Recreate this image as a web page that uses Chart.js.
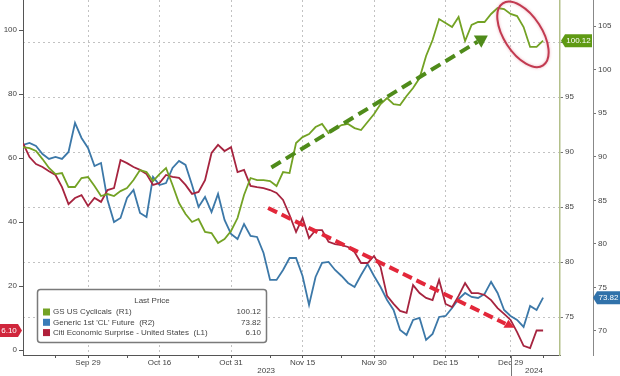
<!DOCTYPE html>
<html>
<head>
<meta charset="utf-8">
<script src="https://cdn.jsdelivr.net/npm/chart.js@4.4.1/dist/chart.umd.min.js"></script>
<style>
html, body { margin: 0; padding: 0; background: #fff; }
</style>
</head>
<body>
<canvas id="chart" width="620" height="376"></canvas>
<script>
const FONT = '"Liberation Sans", Arial, sans-serif';

// business-day index: 0 = Sep 15 2023 ... 80 = Jan 5 2024
const dateTicks = [10, 21, 32, 43, 54, 65, 75];
const dateLabels = ['Sep 29', 'Oct 16', 'Oct 31', 'Nov 15', 'Nov 30', 'Dec 15', 'Dec 29'];
const minorTicks = [5, 16, 27, 38, 49, 60, 70, 80];
const yearLabels = ['2023', '2024'];
const yearPos = [37.4, 78.6];
const yearBreak = 75.1;

const leftTicks = [0, 20, 40, 60, 80, 100];
const r1Ticks = [75, 80, 85, 90, 95, 100];
const r2Ticks = [70, 75, 80, 85, 90, 95, 100, 105];

// GS US Cyclicals (R1)
const gsCyclicals = [
  90.45, 90.36, 90.09, 89.36, 88.55, 88.00, 88.09, 86.82, 86.82, 87.64,
  87.73, 86.91, 86.00, 86.18, 86.00, 86.45, 86.73, 87.45, 88.36, 88.18,
  87.36, 88.00, 88.55, 87.00, 85.36, 84.36, 83.64, 83.91, 82.73, 82.64,
  81.73, 82.09, 82.82, 84.00, 86.09, 87.64, 87.45, 87.45, 87.36, 86.91,
  88.18, 88.09, 90.82, 91.36, 91.64, 92.27, 92.55, 91.73, 92.09, 92.45,
  92.55, 92.18, 92.00, 92.73, 93.45, 94.36, 94.91, 94.36, 94.27, 95.09,
  95.82, 96.73, 98.73, 100.18, 102.09, 101.73, 101.36, 102.27, 100.09, 101.55,
  101.82, 101.82, 102.55, 103.09, 103.00, 102.55, 102.36, 101.36, 99.55, 99.55,
  100.12
];
// Generic 1st 'CL' Future (R2)
const clFuture = [
  91.35, 91.58, 91.24, 90.32, 89.75, 89.98, 89.75, 90.55, 93.88, 92.16,
  91.01, 88.94, 89.29, 85.04, 82.51, 82.97, 85.27, 86.19, 83.55, 83.09,
  87.68, 86.76, 86.99, 88.71, 89.52, 89.06, 86.76, 84.24, 85.38, 83.66,
  85.73, 82.74, 81.14, 80.56, 82.28, 80.91, 80.79, 78.96, 75.86, 75.86,
  77.00, 78.38, 78.38, 76.31, 72.99, 76.20, 77.81, 77.92, 77.00, 76.31,
  75.51, 75.05, 76.43, 77.69, 76.31, 75.05, 73.56, 72.41, 70.11, 69.54,
  71.26, 71.49, 68.97, 69.66, 71.61, 71.72, 72.64, 73.67, 74.36, 73.90,
  73.79, 74.25, 75.63, 74.36, 72.41, 71.72, 71.26, 70.46, 72.87, 72.41,
  73.82
];
// Citi Economic Surprise - United States (L1)
const citiSurprise = [
  64.7, 60.3, 58.1, 57.2, 55.9, 54.7, 50.9, 45.6, 47.5, 48.4,
  45.0, 47.5, 46.3, 50.0, 50.6, 59.4, 58.4, 57.2, 56.3, 55.0,
  51.6, 52.2, 54.7, 54.1, 53.8, 51.6, 48.8, 49.4, 53.1, 61.6,
  64.1, 62.2, 63.4, 55.6, 56.3, 51.3, 50.9, 50.6, 50.0, 49.1,
  46.9, 42.2, 36.9, 41.3, 35.0, 37.5, 37.5, 33.8, 33.1, 32.8,
  32.2, 30.6, 27.2, 27.2, 29.4, 25.9, 16.9, 14.4, 12.2, 11.6,
  20.3, 17.8, 16.3, 15.6, 21.9, 14.4, 13.4, 16.9, 20.9, 17.8,
  17.8, 17.2, 15.6, 13.1, 11.3, 9.4, 5.6, 1.3, 0.6, 6.1,
  6.1
];

const seriesNames = ['GS US Cyclicals  (R1)', "Generic 1st 'CL' Future  (R2)", 'Citi Economic Surprise - United States  (L1)'];
const lastValues = ['100.12', '73.82', '6.10'];
const colors = { gs: '#73a224', cl: '#3c78a8', citi: '#a6243f' };

// annotation anchors in data units [index, value]
const greenArrow = [[38.2, 88.6], [71.5, 100.6]];   // on R1
const redArrow = [[37.7, 44.4], [74.2, 8.2]];       // on L1
const ringCenter = [76.9, 100.7];                    // on R1

const toPts = arr => arr.map((v, i) => ({ x: i, y: v }));

function dashedLine(ctx, x0, y0, x1, y1, color, dash) {
  ctx.save();
  ctx.strokeStyle = color;
  ctx.lineWidth = 4;
  ctx.setLineDash(dash);
  ctx.beginPath();
  ctx.moveTo(x0, y0);
  ctx.lineTo(x1, y1);
  ctx.stroke();
  ctx.restore();
}

function dashedArrow(ctx, x0, y0, x1, y1, color, dash, head) {
  const a = Math.atan2(y1 - y0, x1 - x0);
  const hx = x1 - Math.cos(a) * head, hy = y1 - Math.sin(a) * head;
  dashedLine(ctx, x0, y0, hx, hy, color, dash);
  ctx.save();
  ctx.fillStyle = color;
  ctx.beginPath();
  ctx.moveTo(x1, y1);
  ctx.lineTo(hx + Math.sin(a) * head * 0.6, hy - Math.cos(a) * head * 0.6);
  ctx.lineTo(hx - Math.sin(a) * head * 0.6, hy + Math.cos(a) * head * 0.6);
  ctx.closePath();
  ctx.fill();
  ctx.restore();
}

function tag(ctx, x0, x1, y, text, color, pointLeft) {
  const h = 13, n = 4;
  ctx.save();
  ctx.fillStyle = color;
  ctx.beginPath();
  if (pointLeft) {
    ctx.moveTo(x0, y); ctx.lineTo(x0 + n, y - h / 2); ctx.lineTo(x1, y - h / 2);
    ctx.lineTo(x1, y + h / 2); ctx.lineTo(x0 + n, y + h / 2);
  } else {
    ctx.moveTo(x1, y); ctx.lineTo(x1 - n, y - h / 2); ctx.lineTo(x0, y - h / 2);
    ctx.lineTo(x0, y + h / 2); ctx.lineTo(x1 - n, y + h / 2);
  }
  ctx.closePath();
  ctx.fill();
  ctx.fillStyle = '#fff';
  ctx.font = '8px ' + FONT;
  ctx.textAlign = 'center';
  ctx.textBaseline = 'middle';
  ctx.fillText(text, (x0 + x1) / 2 + (pointLeft ? 2 : -2), y + 0.5);
  ctx.restore();
}

const overlay = {
  id: 'overlay',
  afterDatasetsDraw(chart) {
    const { ctx, scales: { x, yL, y1 } } = chart;
    dashedArrow(ctx, x.getPixelForValue(greenArrow[0][0]), y1.getPixelForValue(greenArrow[0][1]),
      x.getPixelForValue(greenArrow[1][0]), y1.getPixelForValue(greenArrow[1][1]), '#4f8b1a', [11, 6], 12);

    // red dashed trend with a triangle marker at its end
    const rx0 = x.getPixelForValue(redArrow[0][0]), ry0 = yL.getPixelForValue(redArrow[0][1]);
    const rx1 = x.getPixelForValue(redArrow[1][0]), ry1 = yL.getPixelForValue(redArrow[1][1]);
    dashedLine(ctx, rx0, ry0, rx1, ry1, '#e3273a', [10, 5]);
    ctx.save();
    ctx.fillStyle = '#e3273a';
    ctx.beginPath();
    ctx.moveTo(rx1 + 3, ry1 - 4);
    ctx.lineTo(rx1 + 9, ry1 + 4);
    ctx.lineTo(rx1 - 2, ry1 + 4);
    ctx.closePath();
    ctx.fill();
    ctx.restore();

    ctx.save();
    ctx.strokeStyle = '#c23a50';
    ctx.lineWidth = 2;
    ctx.shadowColor = 'rgba(220,120,140,0.6)';
    ctx.shadowBlur = 3;
    ctx.beginPath();
    ctx.ellipse(x.getPixelForValue(ringCenter[0]), y1.getPixelForValue(ringCenter[1]), 37, 19, 57 * Math.PI / 180, 0, Math.PI * 2);
    ctx.stroke();
    ctx.restore();
  },
  afterDraw(chart) {
    const { ctx, scales: { x, yL, y1, y2 }, chartArea } = chart;

    // year labels and separator
    ctx.save();
    ctx.fillStyle = '#444';
    ctx.font = '8px ' + FONT;
    ctx.textAlign = 'center';
    ctx.textBaseline = 'middle';
    yearLabels.forEach((t, i) => ctx.fillText(t, x.getPixelForValue(yearPos[i]), 371));
    const bx = Math.round(x.getPixelForValue(yearBreak)) + 0.5;
    ctx.strokeStyle = '#777';
    ctx.lineWidth = 1;
    ctx.beginPath();
    ctx.moveTo(bx, chartArea.bottom);
    ctx.lineTo(bx, 376);
    ctx.stroke();
    ctx.restore();

    // legend box
    ctx.save();
    const lx = 37.5, ly = 289.5, lw = 229, lh = 53;
    ctx.fillStyle = '#fff';
    ctx.strokeStyle = '#7a7a7a';
    ctx.lineWidth = 1.5;
    ctx.beginPath();
    ctx.roundRect(lx, ly, lw, lh, 3);
    ctx.fill();
    ctx.stroke();
    ctx.font = '8px ' + FONT;
    ctx.fillStyle = '#444';
    ctx.textBaseline = 'middle';
    ctx.textAlign = 'center';
    ctx.fillText('Last Price', 152, 301);
    const rowColors = [colors.gs, '#3a7cb8', '#b0203a'];
    seriesNames.forEach((name, i) => {
      const ry = 312 + i * 10.3;
      ctx.fillStyle = rowColors[i];
      ctx.fillRect(43, ry - 3.5, 7, 7);
      ctx.fillStyle = '#444';
      ctx.textAlign = 'left';
      ctx.fillText(name, 53, ry);
      ctx.textAlign = 'right';
      ctx.fillText(lastValues[i], 261, ry);
    });
    ctx.restore();

    // last value tags
    tag(ctx, 561, 592, y1.getPixelForValue(gsCyclicals[gsCyclicals.length - 1]), lastValues[0], '#5f9a14', true);
    tag(ctx, 593, 620, y2.getPixelForValue(clFuture[clFuture.length - 1]), lastValues[1], '#3172aa', true);
    tag(ctx, 0, 22, yL.getPixelForValue(citiSurprise[citiSurprise.length - 1]), lastValues[2], '#d0263c', false);
  }
};

const tickFont = { family: FONT, size: 8 };

new Chart(document.getElementById('chart'), {
  type: 'line',
  data: {
    datasets: [
      { label: 'GS US Cyclicals', data: toPts(gsCyclicals), yAxisID: 'y1', borderColor: colors.gs, borderWidth: 1.8, pointRadius: 0, tension: 0 },
      { label: 'Citi Economic Surprise', data: toPts(citiSurprise), yAxisID: 'yL', borderColor: colors.citi, borderWidth: 1.8, pointRadius: 0, tension: 0 },
      { label: "Generic 1st 'CL' Future", data: toPts(clFuture), yAxisID: 'y2', borderColor: colors.cl, borderWidth: 1.8, pointRadius: 0, tension: 0 }
    ]
  },
  options: {
    responsive: false,
    animation: false,
    layout: { padding: 0 },
    plugins: { legend: { display: false }, tooltip: { enabled: false } },
    scales: {
      x: {
        type: 'linear', min: 0, max: 82.6,
        afterBuildTicks: s => { s.ticks = dateTicks.concat(minorTicks).sort((a, b) => a - b).map(v => ({ value: v })); },
        afterFit: s => { s.height = 21; s.paddingLeft = 0; s.paddingRight = 0; },
        ticks: {
          autoSkip: false, maxRotation: 0, padding: 0, font: tickFont, color: '#444',
          callback: v => { const k = dateTicks.indexOf(v); return k >= 0 ? dateLabels[k] : ''; }
        },
        grid: {
          color: c => (c.tick && dateTicks.includes(c.tick.value)) ? '#c2c2c2' : 'rgba(0,0,0,0)',
          tickColor: '#555', tickLength: 3, lineWidth: 1
        },
        border: { color: '#555', width: 1, dash: [2, 3] }
      },
      yL: {
        type: 'linear', position: 'left', min: -1.56, max: 109.4,
        afterBuildTicks: s => { s.ticks = leftTicks.map(v => ({ value: v })); },
        afterFit: s => { s.width = 23; s.paddingTop = 0; s.paddingBottom = 0; },
        ticks: { padding: 2, font: tickFont, color: '#444' },
        grid: { drawOnChartArea: false, tickLength: 4, tickColor: '#555' },
        border: { color: '#555', width: 1 }
      },
      y1: {
        type: 'linear', position: 'right', min: 71.55, max: 103.82,
        afterBuildTicks: s => { s.ticks = r1Ticks.map(v => ({ value: v })); },
        afterFit: s => { s.width = 33; s.paddingTop = 0; s.paddingBottom = 0; },
        ticks: { padding: 2, font: tickFont, color: '#444' },
        grid: { drawOnChartArea: true, color: '#c2c2c2', tickColor: '#777', tickLength: 3, lineWidth: 1 },
        border: { color: '#b3c08a', width: 1.5, dash: [2, 3] }
      },
      y2: {
        type: 'linear', position: 'right', min: 67.24, max: 108.0,
        afterBuildTicks: s => { s.ticks = r2Ticks.map(v => ({ value: v })); },
        afterFit: s => { s.width = 27; s.paddingTop = 0; s.paddingBottom = 0; },
        ticks: { padding: 2, font: tickFont, color: '#444' },
        grid: { drawOnChartArea: false, tickColor: '#777', tickLength: 3 },
        border: { color: '#888', width: 1 }
      }
    }
  },
  plugins: [overlay]
});
</script>
</body>
</html>
